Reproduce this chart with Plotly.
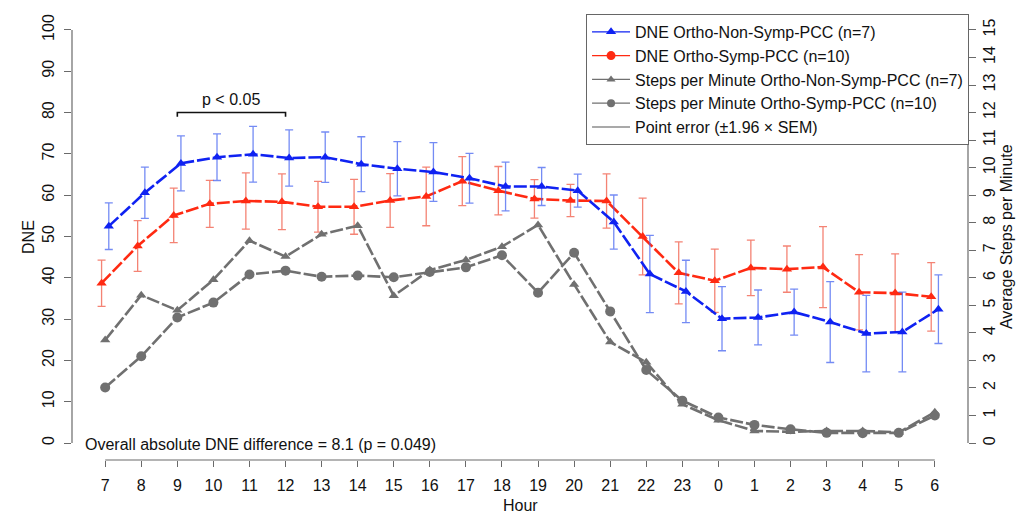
import plotly.graph_objects as go

hours = ["7", "8", "9", "10", "11", "12", "13", "14", "15", "16", "17", "18", "19", "20",
         "21", "22", "23", "0", "1", "2", "3", "4", "5", "6"]

dne_nonsymp = [52.5, 60.6, 67.7, 69.2, 69.9, 69.0, 69.2, 67.5, 66.4, 65.6, 64.1, 62.1,
               62.1, 61.1, 53.5, 40.9, 36.7, 30.1, 30.4, 31.7, 29.3, 26.5, 26.9, 32.4]
dne_nonsymp_err = [5.65, 6.2, 6.65, 5.65, 6.75, 6.8, 6.1, 6.65, 6.55, 7.1, 6.0, 5.9,
                   4.6, 4.0, 6.55, 9.35, 7.55, 7.75, 6.65, 5.55, 9.8, 9.25, 9.65, 8.3]

dne_symp = [38.7, 47.7, 55.1, 57.9, 58.6, 58.4, 57.2, 57.2, 58.7, 59.7, 63.4, 61.1,
            59.1, 58.7, 58.6, 50.0, 41.2, 39.3, 42.4, 42.1, 42.6, 36.5, 36.3, 35.4]
dne_symp_err = [5.6, 6.15, 6.6, 5.7, 6.8, 6.75, 6.15, 6.65, 6.5, 7.1, 5.95, 5.85,
                4.65, 3.9, 6.55, 9.3, 7.5, 7.65, 6.7, 5.6, 9.8, 9.1, 9.5, 8.3]

steps_nonsymp = [3.74, 5.37, 4.82, 5.93, 7.35, 6.77, 7.58, 7.89, 5.35, 6.28, 6.65, 7.13,
                 7.92, 5.76, 3.67, 2.93, 1.41, 0.83, 0.44, 0.41, 0.44, 0.44, 0.39, 1.12]
steps_symp = [2.02, 3.15, 4.56, 5.10, 6.12, 6.26, 6.04, 6.08, 6.02, 6.21, 6.38, 6.82,
              5.46, 6.91, 4.78, 2.65, 1.54, 0.93, 0.66, 0.50, 0.37, 0.36, 0.37, 1.00]

left_ticks = list(range(0, 101, 10))
right_ticks = list(range(0, 16))

FONT = "Liberation Sans, Arial, sans-serif"
FS = 16
BLUE = "#0f22f2"
RED = "#ff2a12"
GRAY = "#707070"
BLUE_ERR = "rgba(70,100,240,0.75)"
RED_ERR = "rgba(240,90,70,0.75)"
AX = "#6a6a6a"
TXT = "#111111"

pos = list(range(1, len(hours) + 1))
pos_red = [p - 0.1 for p in pos]
pos_blue = [p + 0.1 for p in pos]

dash = "13px,3px"
fig = go.Figure()

# steps (right axis)
fig.add_trace(go.Scatter(x=pos, y=steps_nonsymp, yaxis="y2", mode="lines+markers",
                         line=dict(color=GRAY, width=2.6, dash=dash),
                         marker=dict(symbol="triangle-up", size=9, color=GRAY),
                         showlegend=False))
fig.add_trace(go.Scatter(x=pos, y=steps_symp, yaxis="y2", mode="lines+markers",
                         line=dict(color=GRAY, width=2.6, dash=dash),
                         marker=dict(symbol="circle", size=10, color=GRAY),
                         showlegend=False))
# DNE (left axis)
fig.add_trace(go.Scatter(x=pos_red, y=dne_symp, mode="lines+markers",
                         line=dict(color=RED, width=2.6, dash=dash),
                         marker=dict(symbol="triangle-up", size=9, color=RED),
                         error_y=dict(type="data", array=dne_symp_err, color=RED_ERR,
                                      thickness=1.3, width=4),
                         showlegend=False))
fig.add_trace(go.Scatter(x=pos_blue, y=dne_nonsymp, mode="lines+markers",
                         line=dict(color=BLUE, width=2.6, dash=dash),
                         marker=dict(symbol="triangle-up", size=9, color=BLUE),
                         error_y=dict(type="data", array=dne_nonsymp_err, color=BLUE_ERR,
                                      thickness=1.3, width=4),
                         showlegend=False))

# legend entries
legend_items = [
    ("DNE Ortho-Non-Symp-PCC (n=7)", BLUE, "triangle-up", 9, "lines+markers"),
    ("DNE Ortho-Symp-PCC (n=10)", RED, "circle", 9, "lines+markers"),
    ("Steps per Minute Ortho-Non-Symp-PCC (n=7)", GRAY, "triangle-up", 8, "lines+markers"),
    ("Steps per Minute Ortho-Symp-PCC (n=10)", GRAY, "circle", 8, "lines+markers"),
    ("Point error (±1.96 × SEM)", "#555555", "line-ns-open", 8, "lines"),
]
for name, col, sym, sz, mode in legend_items:
    fig.add_trace(go.Scatter(x=[None], y=[None], mode=mode, name=name,
                             line=dict(color=col, width=1.2),
                             marker=dict(symbol=sym, size=sz, color=col),
                             showlegend=True))

shapes = [
    dict(type="line", xref="paper", x0=0, x1=0, yref="y", y0=0, y1=100,
         line=dict(color=AX, width=1.2)),
    dict(type="line", xref="x", x0=pos[0], x1=pos[-1], yref="paper", y0=0, y1=0,
         line=dict(color=AX, width=1.2)),
    dict(type="line", xref="paper", x0=1, x1=1, yref="y2", y0=0, y1=15,
         line=dict(color=AX, width=1.2)),
    # significance bracket between 9 and 12
    dict(type="path", xref="x", yref="y",
         path=f"M {pos[2]},79.0 L {pos[2]},80.0 L {pos[5]},80.0 L {pos[5]},79.0",
         line=dict(color="#111111", width=1.6)),
]

annotations = [
    dict(text="p < 0.05", xref="x", yref="y", x=(pos[2] + pos[5]) / 2, y=83.2,
         showarrow=False, font=dict(size=FS, family=FONT, color=TXT)),
    dict(text="Overall absolute DNE difference = 8.1 (p = 0.049)", xref="paper", yref="y",
         x=0.012, y=-0.4, xanchor="left", yanchor="middle", showarrow=False,
         font=dict(size=FS, family=FONT, color=TXT)),
    dict(text="DNE", xref="paper", yref="y", x=-0.0603, y=50, textangle=-90,
         showarrow=False, font=dict(size=FS, family=FONT, color=TXT)),
    dict(text="Average Steps per Minute", xref="paper", yref="y", x=1.0547, y=50,
         textangle=-90, showarrow=False, font=dict(size=FS, family=FONT, color=TXT)),
    dict(text="Hour", xref="paper", yref="paper", x=0.5, y=-0.1007, yanchor="middle",
         showarrow=False, font=dict(size=FS, family=FONT, color=TXT)),
]

# the page body adds an 8px offset, so the figure is 8px smaller on each axis
fig.update_layout(
    width=1019, height=508,
    margin=dict(l=64, r=59, t=5, b=56),
    paper_bgcolor="white", plot_bgcolor="white",
    font=dict(family=FONT, size=FS, color=TXT),
    shapes=shapes, annotations=annotations,
    xaxis=dict(range=[0.08, 24.92], tickvals=pos, ticktext=hours, showgrid=False,
               zeroline=False, showline=False, ticks="outside", ticklen=6,
               tickcolor=AX, tickfont=dict(size=FS, family=FONT, color=TXT),
               ticklabelstandoff=5, automargin=False),
    yaxis=dict(range=[-4.1, 104.1], tickvals=left_ticks, showgrid=False, zeroline=False,
               showline=False, ticks="outside", ticklen=7, tickcolor=AX, tickangle=-90,
               tickfont=dict(size=FS, family=FONT, color=TXT), ticklabelstandoff=4,
               automargin=False),
    yaxis2=dict(range=[-4.1 * 0.15, 104.1 * 0.15], tickvals=right_ticks, overlaying="y",
                side="right", showgrid=False, zeroline=False, showline=False,
                ticks="outside", ticklen=7, tickcolor=AX, tickangle=-90,
                tickfont=dict(size=FS, family=FONT, color=TXT), automargin=False),
    legend=dict(x=0.5737, y=0.998, xanchor="left", yanchor="top", bgcolor="white",
                bordercolor="#666", borderwidth=1, itemwidth=38, tracegroupgap=0,
                font=dict(size=16, family=FONT, color=TXT)),
    showlegend=True,
)

fig.write_html("out.html")
